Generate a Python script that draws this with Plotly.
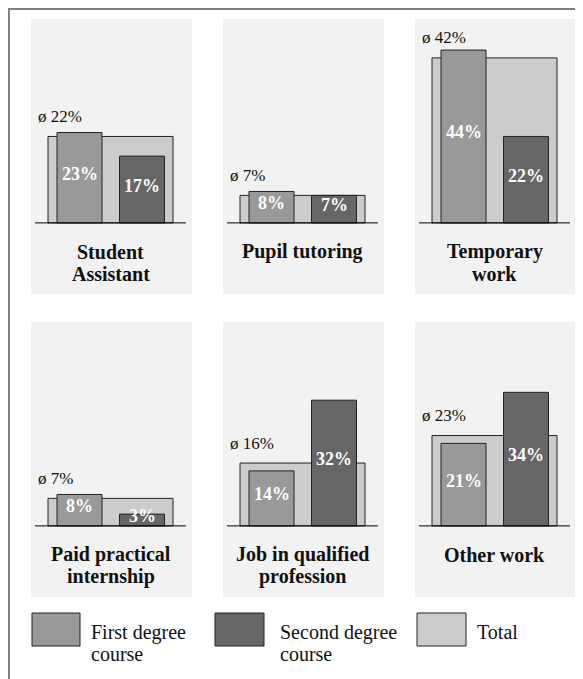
import plotly.graph_objects as go

# ---------------- data ----------------
categories = ["Student<br>Assistant", "Pupil tutoring", "Temporary<br>work",
              "Paid practical<br>internship", "Job in qualified<br>profession", "Other work"]
first_degree = [23, 8, 44, 8, 14, 21]
second_degree = [17, 7, 22, 3, 32, 34]
total = [22, 7, 42, 7, 16, 23]
series_names = ["First degree<br>course", "Second degree<br>course", "Total"]

# ---------------- styling ----------------
OFF = 8                      # page body margin
W, H = 583 - OFF, 679 - OFF  # figure fills the rest of the window
FONT = "Liberation Serif, Times New Roman, Times, serif"
C_FIRST, C_SECOND, C_TOTAL = "#999999", "#666666", "#cccccc"
OUTLINE = "#222222"
PANEL_BG = "#f2f2f2"

# panel boxes in screen pixels: (left, right), (top, bottom)
col_x = [(31, 192), (223, 384), (415, 576)]
row_y = [(19, 294), (322, 597)]
YR = [-18.1, 51.9]
CAT_SIZE, CAT_STEP = 20, 22
LEG_SIZE, LEG_STEP = 20, 22

fig = go.Figure()
annotations = []
shapes = []


def px_x(p):
    return (p - OFF) / W


def px_y(p):
    return 1 - (p - OFF) / H


for i, cat in enumerate(categories):
    r, c = divmod(i, 3)
    n = "" if i == 0 else str(i + 1)
    xa, ya = "x" + n, "y" + n
    x0, x1 = col_x[c]
    y0, y1 = row_y[r]
    fig.update_layout(**{
        "xaxis" + n: dict(domain=[px_x(x0), px_x(x1)], range=[0, x1 - x0],
                          visible=False, anchor=ya, fixedrange=True),
        "yaxis" + n: dict(domain=[px_y(y1), px_y(y0)], range=YR,
                          visible=False, anchor=xa, fixedrange=True),
    })
    # bars
    fig.add_trace(go.Bar(x=[79.5], y=[total[i]], width=[125], xaxis=xa, yaxis=ya,
                         marker=dict(color=C_TOTAL, line=dict(color=OUTLINE, width=1)),
                         showlegend=False, hoverinfo="skip"))
    fig.add_trace(go.Bar(x=[48.5], y=[first_degree[i]], width=[45], xaxis=xa, yaxis=ya,
                         marker=dict(color=C_FIRST, line=dict(color=OUTLINE, width=1)),
                         showlegend=False, hoverinfo="skip"))
    fig.add_trace(go.Bar(x=[111], y=[second_degree[i]], width=[45], xaxis=xa, yaxis=ya,
                         marker=dict(color=C_SECOND, line=dict(color=OUTLINE, width=1)),
                         showlegend=False, hoverinfo="skip"))
    # baseline
    shapes.append(dict(type="line", xref=xa, yref=ya, x0=4, x1=155, y0=0, y1=0,
                       line=dict(color="#000000", width=1), layer="above"))
    # value labels
    for xv, v in ((48.5, first_degree[i]), (111, second_degree[i])):
        annotations.append(dict(xref=xa, yref=ya, x=xv, y=v / 2, text=f"<b>{v}%</b>",
                                showarrow=False, xanchor="center", yanchor="middle", yshift=4,
                                font=dict(family=FONT, size=18, color="white")))
    # average label
    annotations.append(dict(xref=xa, yref=ya, x=5, y=total[i], text=f"ø {total[i]}%",
                            showarrow=False, xanchor="left", yanchor="middle", yshift=20,
                            font=dict(family=FONT, size=17, color="#111111")))
    # category label (one annotation per line)
    for k, line in enumerate(cat.split("<br>")):
        annotations.append(dict(xref=xa, yref=ya, x=79.5, y=0, text=f"<b>{line}</b>",
                                showarrow=False, xanchor="center", yanchor="middle",
                                yshift=-29 - CAT_STEP * k,
                                font=dict(family=FONT, size=CAT_SIZE, color="#111111")))

# ---------------- legend (drawn) ----------------
leg_boxes = [(32, 80), (215, 264), (417, 466)]
leg_text_x = [89, 278, 475]
leg_colors = [C_FIRST, C_SECOND, C_TOTAL]
for (bx0, bx1), tx, col, name in zip(leg_boxes, leg_text_x, leg_colors, series_names):
    shapes.append(dict(type="rect", xref="paper", yref="paper",
                       x0=px_x(bx0), x1=px_x(bx1), y0=px_y(646), y1=px_y(613),
                       fillcolor=col, line=dict(color=OUTLINE, width=1)))
    for k, line in enumerate(name.split("<br>")):
        annotations.append(dict(xref="paper", yref="paper", x=px_x(tx), y=px_y(632 + LEG_STEP * k),
                                text=line, showarrow=False, xanchor="left", yanchor="middle",
                                font=dict(family=FONT, size=LEG_SIZE, color="#111111")))

# ---------------- outer frame (top and left edges) ----------------
shapes.append(dict(type="line", xref="paper", yref="paper", x0=0, x1=1,
                   y0=1 - 1 / H, y1=1 - 1 / H, line=dict(color="#808080", width=2)))
shapes.append(dict(type="line", xref="paper", yref="paper", x0=1 / W, x1=1 / W,
                   y0=0, y1=1, line=dict(color="#808080", width=2)))

fig.update_layout(
    width=W, height=H,
    margin=dict(l=0, r=0, t=0, b=0),
    paper_bgcolor="white",
    plot_bgcolor=PANEL_BG,
    barmode="overlay",
    showlegend=False,
    annotations=annotations,
    shapes=shapes,
    font=dict(family=FONT),
)

fig.write_html("out.html", config={"displayModeBar": False})
